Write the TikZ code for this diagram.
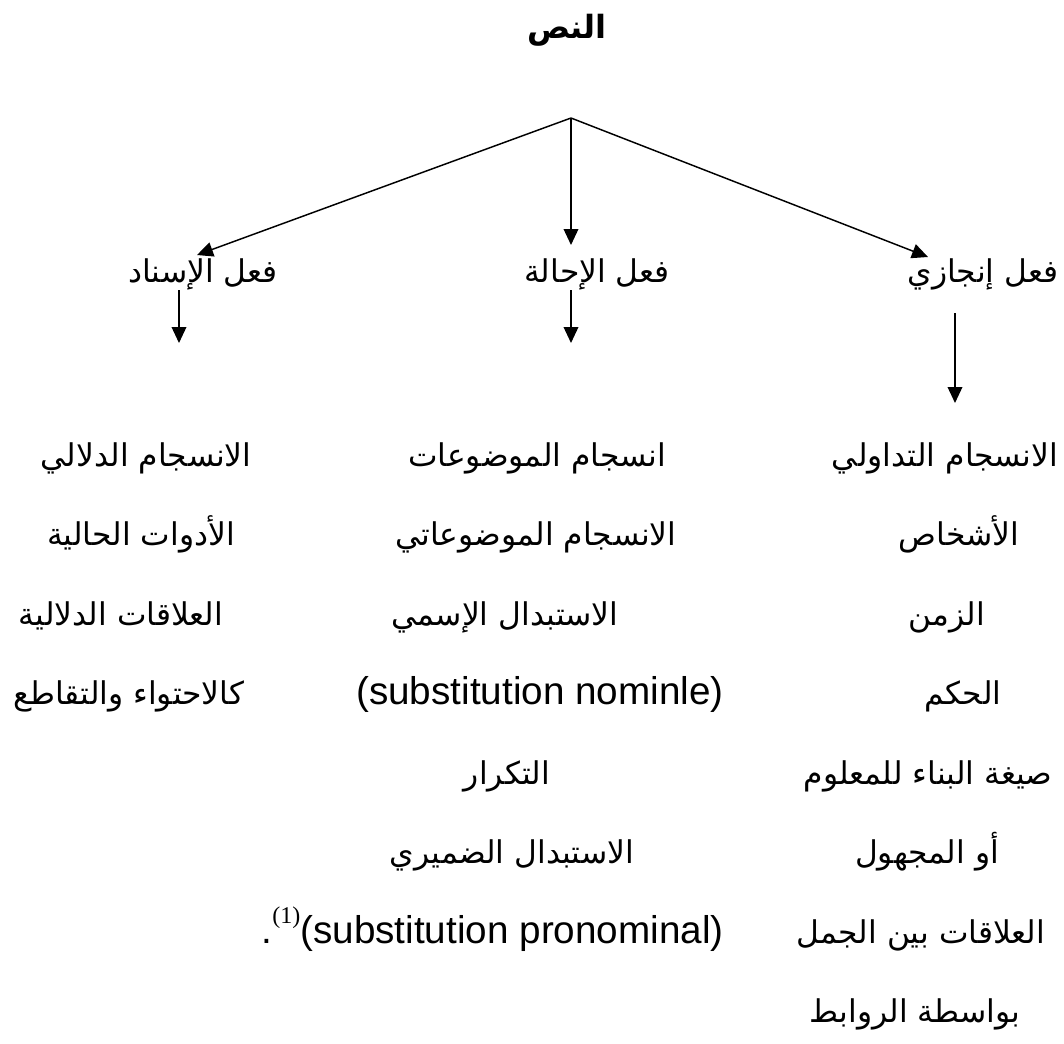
\documentclass[tikz,border=0pt]{standalone}
\usepackage{fontspec}
\setmainfont{Liberation Sans}
\newfontfamily\arabicfont[Script=Arabic]{DejaVu Sans}
\newfontfamily\timesfont{Liberation Serif}
\TeXXeTstate=1
\usetikzlibrary{arrows.meta}
\newcommand{\AR}[1]{\beginR #1\endR}
\tikzset{
  ar/.style={font=\arabicfont\fontsize{23.5}{28}\selectfont, anchor=base, inner sep=0pt},
  artitle/.style={font=\arabicfont\bfseries\fontsize{24}{28}\selectfont, anchor=base, inner sep=0pt},
  lat/.style={font=\fontsize{29}{34}\selectfont, anchor=base east, inner sep=0pt},
  arr/.style={line width=1.1pt, -{Triangle[length=12pt,width=11pt]}},
}
\begin{document}
\begin{tikzpicture}[x=0.75pt,y=-0.75pt]
\useasboundingbox[fill=white] (0,0) rectangle (1064,1043);
% title
\node[artitle] (title) at (567,38) {\AR{النص}};
% branch arrows
\coordinate (apex) at (571,118);
\coordinate (tipL) at (197,255);
\coordinate (tipM) at (571,245);
\coordinate (tipR) at (928,257);
\draw[arr] (apex) -- (tipL);
\draw[arr] (apex) -- (tipM);
\draw[arr] (apex) -- (tipR);
% second level
\node[ar] (isnad) at (203,282) {\AR{فعل الإسناد}};
\node[ar] (ihala) at (597,282) {\AR{فعل الإحالة}};
\node[ar] (injaz) at (983,282) {\AR{فعل إنجازي}};
% vertical arrows
\coordinate (vL1) at (179,290); \coordinate (vL2) at (179,343);
\coordinate (vM1) at (571,290); \coordinate (vM2) at (571,343);
\coordinate (vR1) at (955,313); \coordinate (vR2) at (955,403);
\draw[arr] (vL1) -- (vL2);
\draw[arr] (vM1) -- (vM2);
\draw[arr] (vR1) -- (vR2);
% left column
\node[ar] (l1) at (146,466)   {\AR{الانسجام الدلالي}};
\node[ar] (l2) at (141,545.5) {\AR{الأدوات الحالية}};
\node[ar] (l3) at (121,625)   {\AR{العلاقات الدلالية}};
\node[ar] (l4) at (129,704.5) {\AR{كالاحتواء والتقاطع}};
% middle column
\node[ar] (m1) at (537,466)   {\AR{انسجام الموضوعات}};
\node[ar] (m2) at (536,545.5) {\AR{الانسجام الموضوعاتي}};
\node[ar] (m3) at (505,625)   {\AR{الاستبدال الإسمي}};
\node[lat] (m4) at (724,704.5) {(substitution nominle)};
\node[ar] (m5) at (507,784)   {\AR{التكرار}};
\node[ar] (m6) at (512,863.5) {\AR{الاستبدال الضميري}};
\node[lat] (m7) at (724,943) {.\raisebox{0.5em}{\timesfont\fontsize{18}{20}\selectfont(1)}(substitution pronominal)};
% right column
\node[ar] (r1) at (945,466)   {\AR{الانسجام التداولي}};
\node[ar] (r2) at (959,545.5) {\AR{الأشخاص}};
\node[ar] (r3) at (947,625)   {\AR{الزمن}};
\node[ar] (r4) at (963,704.5) {\AR{الحكم}};
\node[ar] (r5) at (928,784)   {\AR{صيغة البناء للمعلوم}};
\node[ar] (r6) at (927,863.5) {\AR{أو المجهول}};
\node[ar] (r7) at (921,943)   {\AR{العلاقات بين الجمل}};
\node[ar] (r8) at (915,1022.5) {\AR{بواسطة الروابط}};
\end{tikzpicture}
\end{document}
